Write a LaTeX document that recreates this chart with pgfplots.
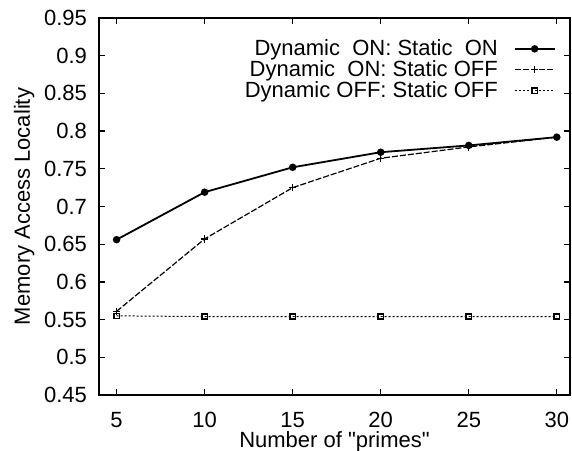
\documentclass[border=0pt]{standalone}
\usepackage{fontspec}
\setmainfont{Liberation Sans}
\usepackage{pgfplots}
\pgfplotsset{compat=1.18}

\begin{document}
\begin{tikzpicture}
\begin{axis}[
    scale only axis,
    width=235.5pt, height=188.5pt,
    xmin=4, xmax=30.75,
    ymin=0.45, ymax=0.95,
    xtick={5,10,15,20,25,30},
    ytick={0.45,0.5,0.55,0.6,0.65,0.7,0.75,0.8,0.85,0.9,0.95},
    yticklabels={0.45,0.5,0.55,0.6,0.65,0.7,0.75,0.8,0.85,0.9,0.95},
    tick align=inside,
    major tick length=3pt,
    axis line style={line width=0.9pt},
    tick style={line width=0.6pt, black},
    font=\fontsize{11}{12}\selectfont,
    /pgf/number format/assume math mode=true,
    xticklabel style={anchor=base, yshift=-16pt, inner sep=0pt},
    yticklabel style={xshift=-2.5pt},
    xlabel={Number of \textquotedbl primes\textquotedbl},
    ylabel={Memory Access Locality},
    xlabel style={at={(axis description cs:0.5,0)}, anchor=base,
        yshift=-26pt, inner sep=0pt},
    ylabel style={yshift=-2pt},
    legend cell align=right,
    legend plot pos=right,
    legend style={draw=none, fill=none, inner sep=0pt,
        at={(0.97,0.955)}, anchor=north east,
        font=\fontsize{11}{12}\selectfont,
        row sep=-3pt,
        /tikz/every odd column/.append style={column sep=6pt}},
    legend image code/.code={\draw[mark repeat=2,mark phase=2,#1]
        plot coordinates {(0cm,0cm) (0.35cm,0cm) (0.7cm,0cm)};},
]
\addplot[black, line width=0.9pt, mark=*, mark size=1.4pt] coordinates {
    (5,0.656) (10,0.719) (15,0.752) (20,0.772) (25,0.781) (30,0.792)};
\addlegendentry{Dynamic\ \ ON: Static\ \ ON}
\addplot[black, line width=0.6pt, dash pattern=on 3pt off 1pt,
    mark=+, mark size=1.8pt, mark options={solid}] coordinates {
    (5,0.561) (10,0.657) (15,0.725) (20,0.764) (25,0.779) (30,0.792)};
\addlegendentry{Dynamic\ \ ON: Static OFF}
\addplot[black, line width=0.5pt, dash pattern=on 1pt off 1pt,
    mark=square, mark size=1.3pt, mark options={solid, line width=0.7pt}] coordinates {
    (5,0.555) (10,0.554) (15,0.554) (20,0.554) (25,0.554) (30,0.554)};
\addlegendentry{Dynamic OFF: Static OFF}
\end{axis}
\pgfresetboundingbox
\path[use as bounding box] (-49.5pt,-27.5pt) rectangle (236.5pt,197.5pt);
\end{tikzpicture}
\end{document}
